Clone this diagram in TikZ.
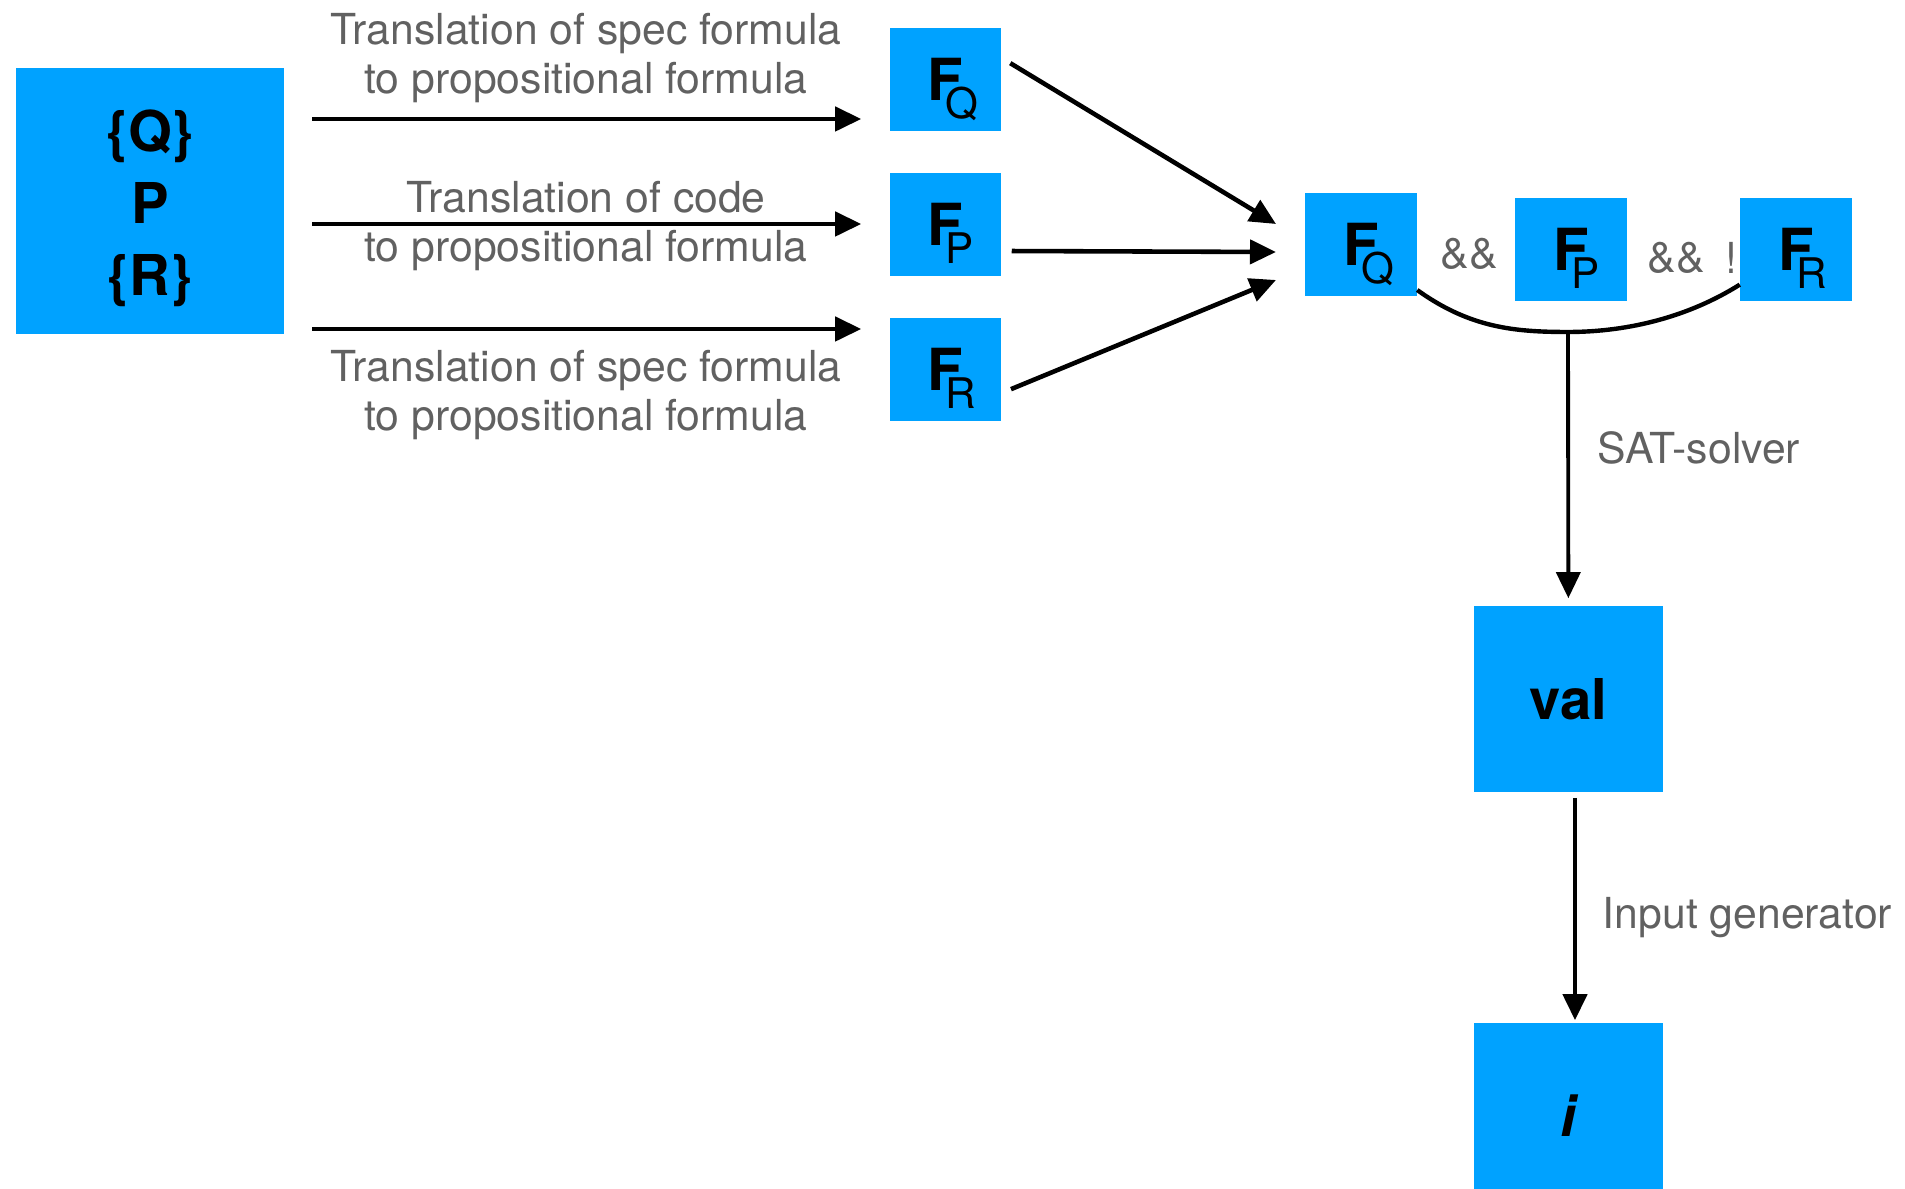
\documentclass[tikz,border=0pt]{standalone}
\usepackage{fontspec}
\setmainfont{TeX Gyre Heros}
\usetikzlibrary{arrows.meta}
\definecolor{boxblue}{RGB}{0,162,255}
\begin{document}
\begin{tikzpicture}[x=0.01cm,y=-0.01cm,
  box/.style={fill=boxblue,inner sep=0pt,minimum width=1.11cm,minimum height=1.03cm},
  bigbox/.style={box,minimum width=1.89cm,minimum height=1.86cm,font=\fontsize{16}{20.5}\selectfont\bfseries},
  arr/.style={line width=1.3pt,-{Triangle[length=7.4pt,width=6.8pt]}},
  lbl/.style={text=black!62,inner sep=0pt,font=\fontsize{12.15}{13.7}\selectfont,align=center}]
  \def\fs#1{\makebox[10pt][l]{\raisebox{0pt}[12.2pt][0pt]{\fontsize{16.5}{16.5}\bfseries F\kern-5pt\raisebox{-5.1pt}{\fontsize{12}{12}\mdseries\selectfont #1}}}}
  \useasboundingbox (0,0) rectangle (1905,1189);
  \node[bigbox,minimum width=2.67cm,minimum height=2.66cm,align=center] (spec) at (150,201) {\rule{0pt}{16pt}\{Q\}\\P\\\{R\}};
  \node[box] (fq) at (945.5,79.5) {\fs{Q}};
  \node[box] (fp) at (945.5,224.5) {\fs{P}};
  \node[box] (fr) at (945.5,369.5) {\fs{R}};
  \node[box] (fq2) at (1361,244.5) {\fs{Q}};
  \node[box] (fp2) at (1571,249.5) {\fs{P}};
  \node[box] (fr2) at (1796,249.5) {\fs{R}};
  \node[bigbox] (val) at (1568.5,699) {val};
  \node[bigbox] (inp) at (1568.5,1116) {\itshape i};
  \node[lbl] (t1) at (586,58) {Translation of spec formula\\to propositional formula};
  \node[lbl] (t2) at (586,226) {Translation of code\\to propositional formula};
  \node[lbl] (t3) at (586,395) {Translation of spec formula\\to propositional formula};
  \node[lbl] (and1) at (1469,254) {\&\&};
  \node[lbl] (and2) at (1676,258) {\&\&};
  \node[lbl] (neg) at (1731,258) {!};
  \node[lbl,anchor=west] (sat) at (1597,448) {SAT-solver};
  \node[lbl,anchor=west] (gen) at (1602,918) {Input generator};
  \draw[arr,shorten <=0.28cm,shorten >=0.28cm] (spec.east |- 0,119) -- (fq.west |- 0,119);
  \draw[arr,shorten <=0.28cm,shorten >=0.28cm] (spec.east |- 0,224) -- (fp.west |- 0,224);
  \draw[arr,shorten <=0.28cm,shorten >=0.28cm] (spec.east |- 0,329) -- (fr.west |- 0,329);
  \coordinate (tq) at (1276,224);
  \coordinate (tp) at (1276,252);
  \coordinate (tr) at (1276,280);
  \draw[arr,shorten <=0.1cm] (fq.east |- 0,58) -- (tq);
  \draw[arr,shorten <=0.1cm] (fp.east |- 0,251) -- (tp);
  \draw[arr,shorten <=0.1cm] (fr.east |- 0,393) -- (tr);
  \coordinate (join) at (1568,332);
  \draw[line width=1.25pt] (fq2.-39) .. controls (1470,328) and (1515,332) .. (join)
    .. controls (1630,332) and (1690,316) .. (fr2.-148);
  \draw[arr,line width=1.1pt,shorten >=0.07cm] (join) -- (val);
  \draw[arr,shorten <=0.05cm,shorten >=0.02cm] ([xshift=0.065cm]val.south) -- ([xshift=0.065cm]inp.north);
\end{tikzpicture}
\end{document}
